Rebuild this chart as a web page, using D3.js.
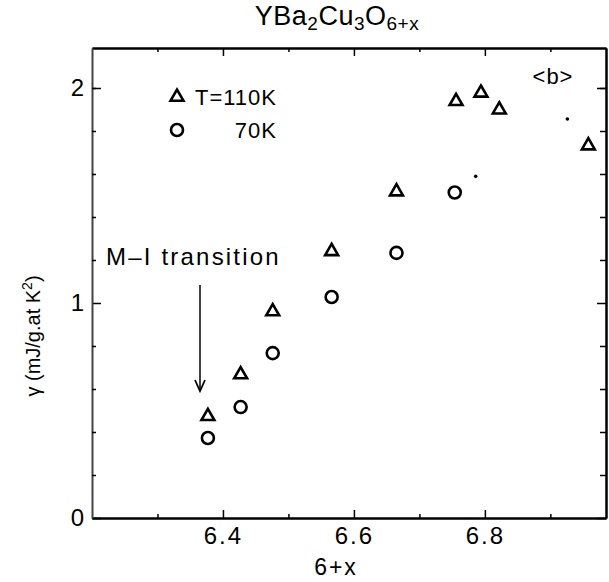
<!DOCTYPE html>
<html>
<head>
<meta charset="utf-8">
<script src="https://cdn.jsdelivr.net/npm/d3@7"></script>
<style>
  body { margin: 0; background: #fff; }
  svg { display: block; }
  text { font-family: "Liberation Sans", Arial, sans-serif; fill: #000; }
</style>
</head>
<body>
<svg id="chart" width="609" height="582"></svg>
<script>
// T = 110K (triangles)
const triX = [6.377, 6.427, 6.476, 6.566, 6.665, 6.756, 6.794, 6.822, 6.958];
const triY = [0.473, 0.667, 0.96, 1.24, 1.518, 1.938, 1.977, 1.899, 1.732];
// 70K (circles)
const circX = [6.377, 6.427, 6.476, 6.566, 6.665, 6.754];
const circY = [0.372, 0.516, 0.767, 1.028, 1.233, 1.514];
// stray specks in the scan
const speckX = [6.786, 6.926];
const speckY = [1.589, 1.856];

const xMajor = [6.4, 6.6, 6.8];
const xMinor = [6.3, 6.5, 6.7, 6.9];
const yMajor = [0, 1, 2];
const yMinor = [0.2, 0.4, 0.6, 0.8, 1.2, 1.4, 1.6, 1.8, 2.0];

const svg = d3.select("#chart");

const x = d3.scaleLinear().domain([6.2, 6.985]).range([92, 606]);
const y = d3.scaleLinear().domain([0, 2.186]).range([518, 48]);

function styleAxis(g) {
  g.select(".domain").attr("stroke", "#000").attr("stroke-width", 2);
  g.selectAll(".tick line").attr("stroke", "#000").attr("stroke-width", 1.5);
  g.selectAll("text")
    .style("font-family", "'Liberation Sans', Arial, sans-serif")
    .style("font-size", "24px")
    .attr("fill", "#000");
}

// bottom
svg.append("g")
  .attr("transform", "translate(0,518)")
  .call(d3.axisBottom(x).tickValues(xMajor).tickFormat(d3.format(".1f"))
    .tickSize(-8).tickSizeOuter(0).tickPadding(9))
  .call(styleAxis)
  .selectAll("text").attr("letter-spacing", "2px");
svg.append("g")
  .attr("transform", "translate(0,518)")
  .call(d3.axisBottom(x).tickValues(xMinor).tickFormat("").tickSize(-4).tickSizeOuter(0))
  .call(styleAxis);

// top
svg.append("g")
  .attr("transform", "translate(0,48)")
  .call(d3.axisTop(x).tickValues(xMajor).tickFormat("").tickSize(-8).tickSizeOuter(0))
  .call(styleAxis);
svg.append("g")
  .attr("transform", "translate(0,48)")
  .call(d3.axisTop(x).tickValues(xMinor).tickFormat("").tickSize(-4).tickSizeOuter(0))
  .call(styleAxis);

// left (thin grey in the scan)
svg.append("g")
  .attr("transform", "translate(92,0)")
  .call(d3.axisLeft(y).tickValues(yMajor).tickFormat(d3.format("d"))
    .tickSize(-9).tickSizeOuter(0).tickPadding(8))
  .call(styleAxis)
  .call(g => g.select(".domain").attr("stroke", "#444").attr("stroke-width", 1.6));
svg.append("g")
  .attr("transform", "translate(92,0)")
  .call(d3.axisLeft(y).tickValues(yMinor).tickFormat("").tickSize(-4).tickSizeOuter(0))
  .call(styleAxis)
  .call(g => g.select(".domain").attr("stroke", "#444").attr("stroke-width", 1.6));

// right
svg.append("g")
  .attr("transform", "translate(606,0)")
  .call(d3.axisRight(y).tickValues(yMajor).tickFormat("").tickSize(-9).tickSizeOuter(0))
  .call(styleAxis);
svg.append("g")
  .attr("transform", "translate(606,0)")
  .call(d3.axisRight(y).tickValues(yMinor).tickFormat("").tickSize(-6).tickSizeOuter(0))
  .call(styleAxis);

// markers
const tri = d3.symbol().type(d3.symbolTriangle).size(72);
svg.append("g").selectAll("path")
  .data(triX.map((d, i) => [d, triY[i]]))
  .join("path")
  .attr("d", tri)
  .attr("transform", d => `translate(${x(d[0])},${y(d[1])})`)
  .attr("fill", "#fff").attr("stroke", "#000").attr("stroke-width", 2.6);

svg.append("g").selectAll("circle")
  .data(circX.map((d, i) => [d, circY[i]]))
  .join("circle")
  .attr("cx", d => x(d[0])).attr("cy", d => y(d[1])).attr("r", 6)
  .attr("fill", "#fff").attr("stroke", "#000").attr("stroke-width", 2.6);

svg.append("g").selectAll("circle")
  .data(speckX.map((d, i) => [d, speckY[i]]))
  .join("circle")
  .attr("cx", d => x(d[0])).attr("cy", d => y(d[1])).attr("r", 1.8)
  .attr("fill", "#000");

// legend
svg.append("path").attr("d", tri).attr("transform", "translate(177,97)")
  .attr("fill", "#fff").attr("stroke", "#000").attr("stroke-width", 2.6);
svg.append("circle").attr("cx", 177).attr("cy", 130).attr("r", 6)
  .attr("fill", "#fff").attr("stroke", "#000").attr("stroke-width", 2.6);
svg.append("text").attr("x", 277).attr("y", 105).attr("text-anchor", "end")
  .style("font-size", "22px").attr("letter-spacing", "1px").text("T=110K");
svg.append("text").attr("x", 277).attr("y", 138).attr("text-anchor", "end")
  .style("font-size", "22px").attr("letter-spacing", "1px").text("70K");

// <b>
svg.append("text").attr("x", 553).attr("y", 84).attr("text-anchor", "middle")
  .style("font-size", "22px").attr("letter-spacing", "1px").text("<b>");

// title
const title = svg.append("text").attr("x", 337).attr("y", 25).attr("text-anchor", "middle")
  .style("font-size", "27px").attr("letter-spacing", "0.5px");
title.append("tspan").text("YBa");
title.append("tspan").attr("baseline-shift", "-25%").style("font-size", "19px").text("2");
title.append("tspan").text("Cu");
title.append("tspan").attr("baseline-shift", "-25%").style("font-size", "19px").text("3");
title.append("tspan").text("O");
title.append("tspan").attr("baseline-shift", "-25%").style("font-size", "19px").text("6+x");

// x label
svg.append("text").attr("x", 336).attr("y", 575).attr("text-anchor", "middle")
  .style("font-size", "23px").attr("letter-spacing", "2px").text("6+x");

// y label
const yl = svg.append("text").attr("transform", "translate(40,336) rotate(-90)")
  .attr("text-anchor", "middle").style("font-size", "20px");
yl.append("tspan").text("\u03b3 (mJ/g.at K");
yl.append("tspan").attr("baseline-shift", "super").style("font-size", "14px").text("2");
yl.append("tspan").text(")");

// M-I transition annotation
svg.append("text").attr("x", 106).attr("y", 265)
  .style("font-size", "24px").attr("letter-spacing", "2.2px").text("M\u2013I transition");
svg.append("line").attr("x1", 200).attr("x2", 200).attr("y1", 285).attr("y2", 390)
  .attr("stroke", "#000").attr("stroke-width", 1.5);
svg.append("path").attr("d", "M195,380 L200,391 L205,380")
  .attr("fill", "none").attr("stroke", "#000").attr("stroke-width", 1.8);
</script>
</body>
</html>
